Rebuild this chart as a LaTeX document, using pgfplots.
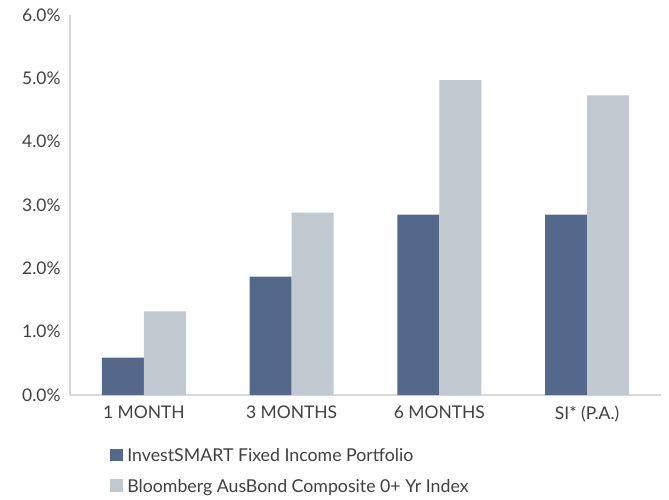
\documentclass[border=0pt]{standalone}
\usepackage{pgfplots}
\pgfplotsset{compat=1.18}
\usepackage{fontspec}
\setmainfont{Lato}
\definecolor{darkbar}{HTML}{53688A}
\definecolor{lightbar}{HTML}{C0C8D0}
\definecolor{axgray}{HTML}{D9D9D9}
\definecolor{txt}{HTML}{404040}
\begin{document}
\begin{tikzpicture}[x=1bp,y=1bp]
\begin{axis}[
  scale only axis,
  width=591bp, height=380bp,
  at={(0,0)}, anchor=south west,
  ybar=0pt, bar width=42bp,
  xmin=-0.5, xmax=3.5,
  ymin=0, ymax=6,
  xtick=data,
  xticklabels={1 MONTH,3 MONTHS,6 MONTHS,SI* (P.A.)},
  ytick={0,1,2,3,4,5,6},
  yticklabel={\pgfmathprintnumber[fixed,fixed zerofill,precision=1]{\tick}\%},
  /pgf/number format/assume math mode=true,
  axis x line*=bottom, axis y line*=left,
  axis line style={axgray, line width=1.5bp},
  x axis line style={-}, y axis line style={-},
  tick style={draw=none},
  tick label style={font=\fontsize{17.5}{20}\selectfont, text=txt},
  yticklabel style={xshift=-6bp},
  xticklabel style={yshift=-3bp},
  legend style={at={(0.068,-0.135)}, anchor=north west, draw=none, fill=none,
    font=\fontsize{17.8}{20}\selectfont, text=txt, legend columns=1,
    row sep=12bp, inner sep=0pt,
    legend cell align=left},
  legend image code/.code={\fill[#1] (0bp,-5.5bp) rectangle (12.5bp,7bp);\path (0bp,0bp) -- (15bp,0bp);},
]
\addplot[fill=darkbar, draw=none] coordinates {(0,0.59) (1,1.87) (2,2.85) (3,2.85)};
\addplot[fill=lightbar, draw=none] coordinates {(0,1.32) (1,2.88) (2,4.97) (3,4.73)};
\legend{InvestSMART Fixed Income Portfolio, Bloomberg AusBond Composite 0+ Yr Index}
\end{axis}
\pgfresetboundingbox
\path[use as bounding box] (-70bp,-105bp) rectangle (599bp,395bp);
\end{tikzpicture}
\end{document}
